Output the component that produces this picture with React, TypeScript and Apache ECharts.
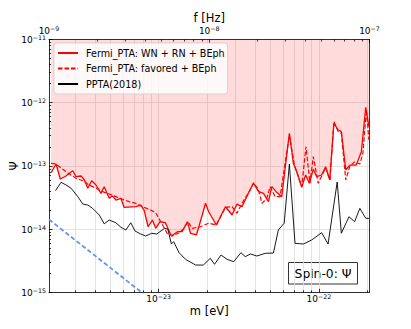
import React, { useEffect, useRef } from "react";
import * as echarts from "echarts";

// axis ranges (m = h f / 2)
const massMin = 2.068e-24;
const massMax = 2.068e-22;
const freqMin = 1e-9;
const freqMax = 1e-7;
const psiMin = 1e-15;
const psiMax = 1e-11;

const seriesNames = ["Fermi_PTA: WN + RN + BEph", "Fermi_PTA: favored + BEph", "PPTA(2018)"];

// Fermi_PTA: WN + RN + BEph (solid red, bounds the excluded region)
const massWnRn = [
  2.13e-24, 2.29e-24, 2.43e-24, 2.64e-24, 2.91e-24, 3.05e-24, 3.28e-24, 3.44e-24, 3.61e-24, 3.82e-24,
  4.06e-24, 4.36e-24, 4.57e-24, 4.91e-24, 5.15e-24, 5.41e-24, 5.81e-24, 6.08e-24, 7.19e-24, 7.73e-24,
  8.11e-24, 8.59e-24, 9.14e-24, 9.58e-24, 1.02e-23, 1.10e-23, 1.20e-23, 1.31e-23, 1.40e-23, 1.51e-23,
  1.58e-23, 1.72e-23, 1.87e-23, 1.96e-23, 2.05e-23, 2.29e-23, 2.61e-23, 2.87e-23, 3.08e-23, 3.31e-23,
  3.73e-23, 3.91e-23, 4.20e-23, 4.51e-23, 4.84e-23, 5.08e-23, 5.41e-23, 5.86e-23, 6.54e-23, 6.92e-23,
  7.27e-23, 7.81e-23, 8.26e-23, 8.71e-23, 9.22e-23, 9.68e-23, 1.04e-22, 1.10e-22, 1.17e-22, 1.24e-22,
  1.32e-22, 1.38e-22, 1.47e-22, 1.56e-22, 1.71e-22, 1.84e-22, 1.96e-22, 2.05e-22,
];
const psiWnRn = [
  7.80e-14, 1.07e-13, 6.21e-14, 6.92e-14, 8.39e-14, 6.75e-14, 6.92e-14, 5.98e-14, 4.43e-14, 5.83e-14,
  4.99e-14, 3.68e-14, 4.69e-14, 3.07e-14, 3.34e-14, 2.88e-14, 3.07e-14, 2.21e-14, 2.26e-14, 2.40e-14,
  2.00e-14, 1.09e-14, 1.39e-14, 1.03e-14, 1.31e-14, 1.26e-14, 7.78e-15, 9.10e-15, 9.10e-15, 1.31e-14,
  8.59e-15, 8.07e-15, 1.67e-14, 2.56e-14, 1.88e-14, 1.16e-14, 2.26e-14, 1.67e-14, 2.49e-14, 2.26e-14,
  4.27e-14, 5.31e-14, 3.91e-14, 3.68e-14, 2.72e-14, 4.69e-14, 3.91e-14, 3.26e-14, 3.28e-13, 1.10e-13,
  8.09e-14, 4.58e-14, 7.18e-14, 5.31e-14, 8.83e-14, 6.75e-14, 7.18e-14, 9.70e-14, 5.98e-14, 4.72e-13,
  3.70e-13, 3.48e-13, 8.61e-14, 1.03e-13, 1.03e-13, 1.68e-13, 8.45e-13, 4.17e-13,
];

// Fermi_PTA: favored + BEph (dashed red)
const massFavored = [
  2.13e-24, 2.29e-24, 2.52e-24, 2.77e-24, 3.05e-24, 3.36e-24, 3.69e-24, 4.06e-24, 4.47e-24, 4.91e-24,
  5.41e-24, 5.95e-24, 6.54e-24, 7.19e-24, 7.92e-24, 8.71e-24, 9.58e-24, 1.03e-23, 1.13e-23, 1.22e-23,
  1.34e-23, 1.44e-23, 1.52e-23, 1.62e-23, 1.82e-23, 2.05e-23, 2.29e-23, 2.61e-23, 2.87e-23, 3.08e-23,
  3.31e-23, 3.73e-23, 3.91e-23, 4.20e-23, 4.41e-23, 4.73e-23, 4.96e-23, 5.33e-23, 5.72e-23, 6.54e-23,
  7.03e-23, 7.81e-23, 8.30e-23, 8.79e-23, 9.22e-23, 9.90e-23, 1.10e-22, 1.17e-22, 1.24e-22, 1.32e-22,
  1.38e-22, 1.47e-22, 1.56e-22, 1.67e-22, 1.80e-22, 1.88e-22, 1.98e-22, 2.05e-22,
];
const psiFavored = [
  1.10e-13, 1.07e-13, 8.83e-14, 7.45e-14, 6.37e-14, 5.83e-14, 4.99e-14, 4.43e-14, 3.91e-14, 3.59e-14,
  3.26e-14, 2.96e-14, 2.72e-14, 2.56e-14, 2.26e-14, 2.06e-14, 1.82e-14, 1.31e-14, 8.59e-15, 7.78e-15,
  8.77e-15, 1.03e-14, 1.31e-14, 1.03e-14, 1.09e-14, 1.24e-14, 1.16e-14, 2.21e-14, 2.26e-14, 1.78e-14,
  2.56e-14, 4.16e-14, 5.42e-14, 4.16e-14, 2.56e-14, 3.07e-14, 4.69e-14, 3.26e-14, 3.26e-14, 3.08e-13,
  1.03e-13, 4.69e-14, 2.01e-13, 5.31e-14, 1.40e-13, 5.31e-14, 9.27e-14, 5.98e-14, 5.00e-13, 3.48e-13,
  3.28e-13, 5.98e-14, 9.95e-14, 1.16e-13, 1.07e-13, 1.58e-13, 7.67e-13, 2.57e-13,
];

// PPTA(2018) (black)
const massPPTA = [
  2.27e-24, 2.46e-24, 2.64e-24, 2.84e-24, 3.13e-24, 3.36e-24, 3.61e-24, 3.87e-24, 4.26e-24, 4.57e-24,
  4.91e-24, 5.41e-24, 5.81e-24, 6.24e-24, 6.70e-24, 7.12e-24, 7.73e-24, 8.30e-24, 9.05e-24, 9.72e-24,
  1.09e-23, 1.14e-23, 1.20e-23, 1.24e-23, 1.34e-23, 1.47e-23, 1.70e-23, 1.90e-23, 2.10e-23, 2.23e-23,
  2.45e-23, 2.67e-23, 2.94e-23, 3.26e-23, 3.47e-23, 3.73e-23, 4.10e-23, 4.62e-23, 5.20e-23, 5.58e-23,
  6.07e-23, 6.54e-23, 7.09e-23, 7.99e-23, 9.01e-23, 1.04e-22, 1.14e-22, 1.30e-22, 1.38e-22, 1.54e-22,
  1.67e-22, 1.80e-22, 1.96e-22, 2.05e-22,
];
const psiPPTA = [
  4.05e-14, 5.51e-14, 4.99e-14, 4.43e-14, 3.26e-14, 2.49e-14, 2.40e-14, 2.13e-14, 1.67e-14, 1.21e-14,
  1.39e-14, 1.26e-14, 1.07e-14, 9.68e-15, 1.26e-14, 9.33e-15, 8.36e-15, 7.78e-15, 8.59e-15, 8.36e-15,
  1.03e-14, 1.00e-14, 5.81e-15, 6.32e-15, 4.24e-15, 3.33e-15, 2.70e-15, 2.70e-15, 3.45e-15, 2.77e-15,
  3.89e-15, 3.33e-15, 3.05e-15, 4.24e-15, 3.66e-15, 4.04e-15, 3.75e-15, 4.14e-15, 4.18e-15, 9.68e-15,
  1.24e-14, 1.07e-13, 5.96e-15, 5.81e-15, 6.73e-15, 8.77e-15, 5.81e-15, 5.56e-14, 8.59e-15, 1.57e-14,
  1.31e-14, 2.13e-14, 1.48e-14, 1.48e-14,
];

// theoretical signal line (blue dashed)
const massTheory = [2.068e-24, 1.0e-23];
const psiTheory = [1.42e-14, 6.1e-16];

// tick values
const massMajorTicks = [1e-23, 1e-22];
const massMinorTicks = [
  3e-24, 4e-24, 5e-24, 6e-24, 7e-24, 8e-24, 9e-24,
  2e-23, 3e-23, 4e-23, 5e-23, 6e-23, 7e-23, 8e-23, 9e-23, 2e-22,
];
const freqMajorTicks = [1e-9, 1e-8, 1e-7];
const freqMinorTicks = [
  2e-9, 3e-9, 4e-9, 5e-9, 6e-9, 7e-9, 8e-9, 9e-9,
  2e-8, 3e-8, 4e-8, 5e-8, 6e-8, 7e-8, 8e-8, 9e-8,
];
const psiMajorTicks = [1e-15, 1e-14, 1e-13, 1e-12, 1e-11];
const psiMinorTicks = [
  2e-15, 3e-15, 4e-15, 5e-15, 6e-15, 7e-15, 8e-15, 9e-15,
  2e-14, 3e-14, 4e-14, 5e-14, 6e-14, 7e-14, 8e-14, 9e-14,
  2e-13, 3e-13, 4e-13, 5e-13, 6e-13, 7e-13, 8e-13, 9e-13,
  2e-12, 3e-12, 4e-12, 5e-12, 6e-12, 7e-12, 8e-12, 9e-12,
];

const FONT = "DejaVu Sans";
const L = (v: number) => Math.log10(v);
const pairs = (xs: number[], ys: number[]) => xs.map((x, i) => [L(x), L(ys[i])]);

const supFmt = (v: number) => `{b|10}{s|\u2212${Math.abs(Math.round(v))}}`;
const rich = {
  b: { fontSize: 9, fontFamily: FONT, color: "#000", verticalAlign: "bottom", lineHeight: 10 },
  s: {
    fontSize: 6.3,
    fontFamily: FONT,
    color: "#000",
    verticalAlign: "bottom",
    lineHeight: 7,
    padding: [0, 0, 4, 0],
  },
};

const axisLineStyle = { color: "#000", width: 0.8 };
const tickLine = { color: "#000", width: 0.8 };
const gridLine = { show: true, lineStyle: { color: "#dddddd", width: 0.8 } };
const nameStyle = { fontFamily: FONT, fontSize: 11.5, color: "#000" };

function buildOption() {
  const mMin = L(massMin);
  const mMax = L(massMax);
  const fMin = L(freqMin);
  const fMax = L(freqMax);
  const pMin = L(psiMin);
  const pMax = L(psiMax);
  return {
    animation: false,
    backgroundColor: "#ffffff",
    textStyle: { fontFamily: FONT },
    grid: {
      left: 49,
      right: 41.5,
      top: 39.5,
      bottom: 36.7,
      containLabel: false,
      outerBoundsMode: "none",
    },
    xAxis: [
      {
        type: "value",
        position: "bottom",
        min: mMin,
        max: mMax,
        axisLine: { show: true, onZero: false, lineStyle: axisLineStyle },
        axisTick: { show: true, inside: true, length: 3.5, customValues: massMajorTicks.map(L), lineStyle: tickLine },
        axisLabel: { show: true, customValues: massMajorTicks.map(L), formatter: supFmt, rich, margin: 1.5 },
        splitLine: gridLine,
        name: "m [eV]",
        nameLocation: "middle",
        nameGap: 12.5,
        nameMoveOverlap: false,
        nameTextStyle: nameStyle,
      },
      {
        type: "value",
        position: "bottom",
        min: mMin,
        max: mMax,
        axisLine: { show: false, onZero: false },
        axisTick: { show: true, inside: true, length: 2, customValues: massMinorTicks.map(L), lineStyle: tickLine },
        axisLabel: { show: false },
        splitLine: gridLine,
      },
      {
        type: "value",
        position: "top",
        min: fMin,
        max: fMax,
        axisLine: { show: true, onZero: false, lineStyle: axisLineStyle },
        axisTick: { show: true, inside: true, length: 3.5, customValues: freqMajorTicks.map(L), lineStyle: tickLine },
        axisLabel: { show: true, customValues: freqMajorTicks.map(L), formatter: supFmt, rich, margin: 4.5 },
        splitLine: { show: false },
        name: "f [Hz]",
        nameLocation: "middle",
        nameGap: 15.5,
        nameMoveOverlap: false,
        nameTextStyle: nameStyle,
      },
      {
        type: "value",
        position: "top",
        min: fMin,
        max: fMax,
        axisLine: { show: false, onZero: false },
        axisTick: { show: true, inside: true, length: 2, customValues: freqMinorTicks.map(L), lineStyle: tickLine },
        axisLabel: { show: false },
        splitLine: { show: false },
      },
    ],
    yAxis: [
      {
        type: "value",
        position: "left",
        min: pMin,
        max: pMax,
        axisLine: { show: true, onZero: false, lineStyle: axisLineStyle },
        axisTick: { show: true, inside: true, length: 3.5, customValues: psiMajorTicks.map(L), lineStyle: tickLine },
        axisLabel: { show: true, customValues: psiMajorTicks.map(L), formatter: supFmt, rich, margin: 3 },
        splitLine: gridLine,
        name: "\u03a8",
        nameLocation: "middle",
        nameRotate: 90,
        nameGap: 29,
        nameMoveOverlap: false,
        nameTextStyle: nameStyle,
      },
      {
        type: "value",
        position: "left",
        min: pMin,
        max: pMax,
        axisLine: { show: false, onZero: false },
        axisTick: { show: true, inside: true, length: 2, customValues: psiMinorTicks.map(L), lineStyle: tickLine },
        axisLabel: { show: false },
        splitLine: { show: false },
      },
      {
        type: "value",
        position: "right",
        min: pMin,
        max: pMax,
        axisLine: { show: true, onZero: false, lineStyle: axisLineStyle },
        axisTick: { show: false },
        axisLabel: { show: false },
        splitLine: { show: false },
      },
    ],
    legend: {
      show: true,
      orient: "vertical",
      left: 54,
      top: 43,
      data: seriesNames,
      itemWidth: 20,
      itemHeight: 9,
      itemGap: 5.5,
      padding: [5, 3, 5, 3],
      backgroundColor: "rgba(255,255,255,0.8)",
      borderColor: "#cccccc",
      borderWidth: 0.8,
      borderRadius: 3,
      selectedMode: false,
      itemStyle: { opacity: 0 },
      formatter: (name: string) => `{t|${name}}`,
      textStyle: {
        fontFamily: FONT,
        fontSize: 9.6,
        color: "#000",
        rich: { t: { fontFamily: FONT, fontSize: 9.6, color: "#000", padding: [0, 0, 0, 3] } },
      },
    },
    graphic: [
      {
        type: "group",
        x: 288.5,
        y: 262.5,
        children: [
          {
            type: "rect",
            shape: { x: 0, y: 0, width: 69, height: 21.5 },
            style: { fill: "#ffffff", stroke: "#333333", lineWidth: 1 },
          },
          {
            type: "text",
            x: 34.5,
            y: 11,
            style: {
              text: "Spin-0: \u03a8",
              fontSize: 12.3,
              fontFamily: FONT,
              fill: "#000",
              align: "center",
              verticalAlign: "middle",
            },
          },
        ],
      },
    ],
    series: [
      {
        type: "line",
        name: seriesNames[0],
        xAxisIndex: 0,
        yAxisIndex: 0,
        data: pairs(massWnRn, psiWnRn),
        symbol: "none",
        showSymbol: false,
        lineStyle: { color: "#ff0000", width: 1.3 },
        itemStyle: { color: "#ff0000" },
        areaStyle: { origin: "end", color: "rgba(255,0,0,0.2)" },
        z: 3,
      },
      {
        type: "line",
        name: seriesNames[1],
        xAxisIndex: 0,
        yAxisIndex: 0,
        data: pairs(massFavored, psiFavored),
        symbol: "none",
        showSymbol: false,
        lineStyle: { color: "#ff0000", width: 1.2, type: [4.5, 2] },
        itemStyle: { color: "#ff0000" },
        z: 3,
      },
      {
        type: "line",
        name: seriesNames[2],
        xAxisIndex: 0,
        yAxisIndex: 0,
        data: pairs(massPPTA, psiPPTA),
        symbol: "none",
        showSymbol: false,
        lineStyle: { color: "#000000", width: 0.9 },
        itemStyle: { color: "#000000" },
        z: 3,
      },
      {
        type: "line",
        name: "theory",
        xAxisIndex: 0,
        yAxisIndex: 0,
        data: pairs(massTheory, psiTheory),
        symbol: "none",
        showSymbol: false,
        clip: true,
        lineStyle: { color: "#6495ED", width: 1.8, type: [4.5, 2.5] },
        itemStyle: { color: "#6495ED" },
        z: 3,
      },
    ],
  };
}

export default function App() {
  const ref = useRef<HTMLDivElement>(null);
  useEffect(() => {
    if (!ref.current) return;
    const chart = echarts.init(ref.current, null, { renderer: "svg" });
    chart.setOption(buildOption() as any);
    return () => chart.dispose();
  }, []);
  return (
    <div
      ref={ref}
      style={{ position: "absolute", left: 0, top: 0, width: 411, height: 329, background: "#fff" }}
    />
  );
}
